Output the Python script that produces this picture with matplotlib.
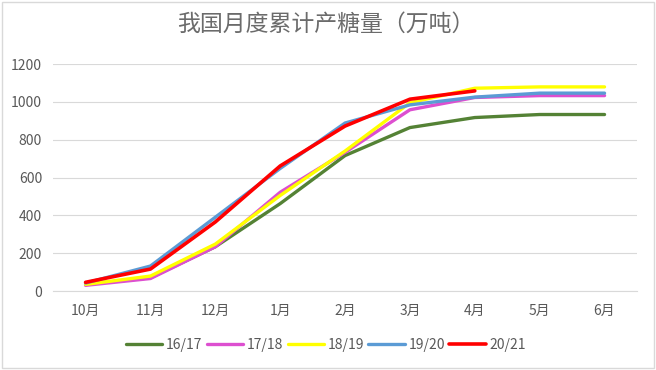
import matplotlib.pyplot as plt
import matplotlib as mpl

plt.rcParams['font.family'] = ['Noto Sans CJK SC', 'DejaVu Sans']

months = ['10月', '11月', '12月', '1月', '2月', '3月', '4月', '5月', '6月']
seasons = ['16/17', '17/18', '18/19', '19/20', '20/21']

s1617 = [35, 70, 234, 462, 716, 864, 917, 933, 933]
s1718 = [30, 66, 234, 522, 733, 958, 1023, 1033, 1033]
s1819 = [35, 79, 248, 505, 740, 995, 1072, 1079, 1079]
s1920 = [42, 132, 390, 648, 888, 984, 1025, 1046, 1046]
s2021 = [46, 116, 365, 661, 872, 1014, 1058]

series = [s1617, s1718, s1819, s1920, s2021]
colors = ['#548235', '#DD4FD0', '#FFFF00', '#5B9BD5', '#FF0000']
widths = [2.4, 2.4, 2.4, 2.4, 2.6]

fig = plt.figure(figsize=(6.56, 3.70), dpi=100)
ax = fig.add_axes([0.081, 0.2135, 0.89, 0.6135])

for name, vals, c, w in zip(seasons, series, colors, widths):
    ax.plot(range(len(vals)), vals, color=c, lw=w, label=name, solid_capstyle='round')

ax.set_xlim(-0.5, len(months) - 0.5)
ax.set_ylim(0, 1200)
ax.set_yticks(range(0, 1201, 200))
ax.set_xticks(range(len(months)))
ax.set_xticklabels(months)
ax.grid(axis='y', color='#D9D9D9', lw=0.8)
ax.set_axisbelow(True)
for side in ['top', 'right', 'left']:
    ax.spines[side].set_visible(False)
ax.spines['bottom'].set_color('#D9D9D9')
ax.tick_params(axis='y', length=0, labelsize=10, colors='#595959', pad=8)
ax.tick_params(axis='x', length=0, labelsize=10, colors='#595959', pad=9)

fig.text(0.497, 0.935, '我国月度累计产糖量（万吨）', ha='center', va='center',
         fontsize=16.5, color='#6b6b6b')

leg = fig.legend(loc='center', bbox_to_anchor=(0.497, 0.068), ncol=5, frameon=False,
                 fontsize=10, handlelength=2.6, handletextpad=0.3, columnspacing=0.3,
                 labelcolor='#595959')

# outer border like the excel chart frame
fig.patches.append(mpl.patches.Rectangle((0.003, 0.005), 0.994, 0.99, transform=fig.transFigure,
                                         fill=False, edgecolor='#D9D9D9', lw=1))

plt.savefig('out.png', dpi=100)
